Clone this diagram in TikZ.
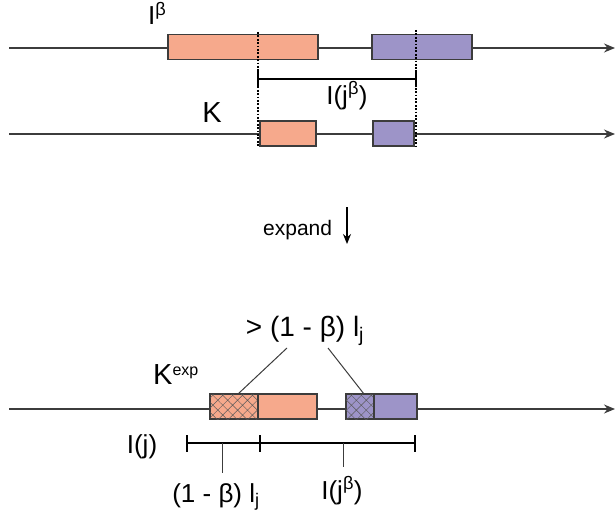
\documentclass[tikz,border=0pt]{standalone}
\usepackage{fontspec}
\setmainfont{Liberation Sans}
\usetikzlibrary{arrows.meta,positioning,patterns.meta}
\definecolor{Pk}{HTML}{F6A98C}
\definecolor{Pu}{HTML}{9D94C8}
\definecolor{Ed}{HTML}{3C3C3C}
\tikzset{
  axis/.style={-{Stealth[length=11pt,width=9pt]}, line width=1.2pt, draw=Ed},
  pkbox/.style={rectangle, draw=Ed, line width=1.2pt, fill=Pk, inner sep=0pt, outer sep=0pt, minimum height=25pt},
  pubox/.style={pkbox, fill=Pu},
  hatch/.style={postaction={pattern={Hatch[angle=45,distance=7pt,line width=0.45pt]}, pattern color=Ed!85}},
  cut/.style={dash pattern=on 1.8pt off 1.6pt, line width=1.8pt},
  span/.style={line width=1.2pt},
  tick/.style={line width=2pt},
  tie/.style={line width=1pt, draw=Ed},
  down/.style={-{Stealth[length=10pt,width=8pt]}, line width=1.2pt},
  lbl/.style={font=\fontsize{26}{30}\selectfont, inner sep=0pt},
  big/.style={font=\fontsize{29}{32}\selectfont, inner sep=0pt},
  small/.style={font=\fontsize{21}{24}\selectfont, inner sep=0pt},
}
\newcommand{\expo}[1]{\raisebox{9pt}{\fontsize{16}{18}\selectfont #1}}

\begin{document}
\begin{tikzpicture}[x=1pt,y=-1pt]
  \useasboundingbox (0,0) rectangle (616,519);
  \foreach \yy/\nm in {48/1,134/2,409/3}{
    \coordinate (a\nm) at (9,\yy); \coordinate (b\nm) at (615,\yy);
    \draw[axis] (a\nm) -- (b\nm);}
  % the two streams, before and after
  \node[pkbox, minimum width=150pt] (tp) at (243,47) {};
  \node[pubox, minimum width=100pt] (tu) at (422,47) {};
  \node[pkbox, minimum width=56pt] (kp) at (288,133.5) {};
  \node[pubox, minimum width=41pt] (ku) at (393.5,133.5) {};
  \node[pkbox, hatch, minimum width=48pt] (hp) at (234,406.5) {};
  \node[pkbox, minimum width=59pt, right=0pt of hp] (ep) {};
  \node[pubox, hatch, minimum width=28pt] (hu) at (360,406.5) {};
  \node[pubox, minimum width=43pt, right=0pt of hu] (eu) {};
  \coordinate (c1) at (258,32);
  \coordinate (c2) at (416,30);
  \draw[cut] (c1) -- (c1 |- kp.south);
  \draw[cut] (c2) -- (c2 |- ku.south);
  \coordinate (s1) at (258,79);
  \coordinate (s2) at (416,79);
  \draw[span] (s1) -- (s2);
  \foreach \p in {s1,s2}
    \draw[tick] ([yshift=-8.5pt]\p) -- ([yshift=8.5pt]\p);
  \node[lbl, anchor=base west] (ib) at (148,25) {I\textsuperscript{β}};
  \node[lbl, anchor=base] (ljb) at (347,104) {I(j\textsuperscript{β})};
  \node[big, anchor=base] (k) at (212,122) {K};
  % expansion step
  \node[small, anchor=base west] (ex) at (263,235) {expand};
  \coordinate (xa) at (347,207);
  \coordinate (xb) at (347,244);
  \draw[down] (xa) -- (xb);
  \node[lbl, font=\fontsize{28}{30}\selectfont, anchor=base] (gt) at (305,336) {> (1 - β) l\textsubscript{j}};
  \coordinate (g1) at (287,348);
  \coordinate (g2) at (328,348);
  \draw[tie] (g1) -- ([xshift=4pt]hp.north);
  \draw[tie] (g2) -- ([xshift=4pt]hu.north);
  \node[big, anchor=base west] (kx) at (153,384) {K\expo{exp}};
  % lengths below the expanded stream
  \coordinate (u1) at (187,443);
  \coordinate (u2) at (260,443);
  \coordinate (u3) at (415,443);
  \draw[span] (u1) -- (u3);
  \foreach \p in {u1,u2,u3}
    \draw[tick] ([yshift=-8.5pt]\p) -- ([yshift=8.5pt]\p);
  \coordinate (m1) at (222,443);
  \coordinate (n1) at (222,473);
  \coordinate (m2) at (343,443);
  \coordinate (n2) at (343,467);
  \draw[tie] (m1) -- (n1);
  \draw[tie] (m2) -- (n2);
  \node[lbl, anchor=base] (ij) at (142,453) {I(j)};
  \node[lbl, anchor=base] (bl) at (216,502) {(1 - β) l\textsubscript{j}};
  \node[lbl, anchor=base] (bj) at (342,499) {I(j\textsuperscript{β})};
\end{tikzpicture}
\end{document}
